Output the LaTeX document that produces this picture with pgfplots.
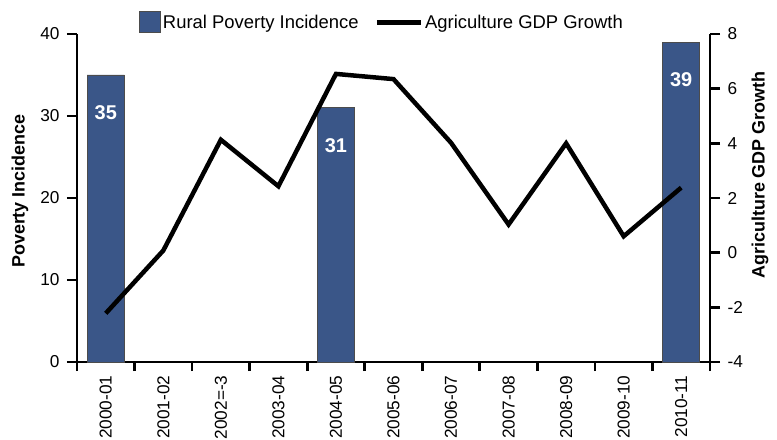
\documentclass[border=0pt]{standalone}
\usepackage{fontspec}
\setmainfont{Liberation Sans}
\usepackage{pgfplots}
\pgfplotsset{compat=1.18}
\newcommand\fs{\fontsize{17.3}{20}\selectfont}
\newcommand\fl{\fontsize{18.5}{22}\selectfont}
\newcommand\ft{\fontsize{18}{21}\selectfont}
\definecolor{barblue}{RGB}{58,86,136}
\pgfplotsset{
  common/.style={
    scale only axis, width=633bp, height=328bp,
    xmin=-0.5, xmax=10.5,
    font=\fs,
    /pgf/number format/assume math mode=true,
    tick align=outside,
    major tick length=10bp,
    minor tick length=9bp,
    every tick/.style={black, line width=2.8bp},
    axis line style={black, line width=2.5bp},
    tick label style={font=\fs},
    ylabel style={font=\ft\bfseries},
  },
  linelegend/.style={legend image code/.code={\draw[black, line width=4.5bp] (0bp,0bp) -- (44bp,0bp);}},
  barlegend/.style={legend image code/.code={\draw[fill=barblue, draw=black!70, line width=0.8bp] (0bp,-10bp) rectangle (21bp,11bp);}},
}
\begin{document}
\begin{tikzpicture}
\path[use as bounding box] (-77bp,-78bp) rectangle (700bp,362bp);
\begin{axis}[common,
  axis y line*=left, axis x line*=bottom,
  ymin=0, ymax=40, ytick={0,10,20,30,40},
  yticklabel style={xshift=-4bp},
  xtick={0,...,10},
  xticklabels={2000-01,2001-02,2002=-3,2003-04,2004-05,2005-06,2006-07,2007-08,2008-09,2009-10,2010-11},
  every major x tick/.append style={draw=none},
  minor xtick={-0.5,0.5,...,10.5},
  x tick label style={rotate=90, anchor=east},
  ylabel={Poverty Incidence},
  ylabel style={at={(axis description cs:-0.090,0.521)}, anchor=center},
  ybar, bar width=0.645,
  legend columns=2,
  legend style={at={(0.5,1)}, anchor=south, xshift=-11.5bp, yshift=1bp, draw=none, fill=none, inner sep=0pt, font=\fl,
    /tikz/every even column/.append style={column sep=14bp}},
  legend cell align=left,
]
\addplot[fill=barblue, draw=black!70, line width=0.8bp, barlegend,
  nodes near coords, point meta=explicit symbolic,
  every node near coord/.append style={font=\fontsize{20}{23}\selectfont\bfseries, text=white, anchor=center, yshift=-37.5bp}]
  table[meta=lab] {
x y lab
0 35 35
4 31 31
10 39 39
};
\addlegendentry{Rural Poverty Incidence}
\addlegendimage{linelegend}
\addlegendentry{Agriculture GDP Growth}
\end{axis}
\begin{axis}[common,
  axis y line*=right, axis x line=none,
  ymin=-4, ymax=8, ytick={-4,-2,0,2,4,6,8},
  yticklabel style={xshift=4bp},
  ylabel={Agriculture GDP Growth},
  ylabel style={at={(axis description cs:1.079,0.570)}, anchor=center},
]
\addplot[black, line width=4.5bp, mark=none] coordinates {
(0,-2.22) (1,0.08) (2,4.13) (3,2.43) (4,6.54) (5,6.35) (6,4.02) (7,1.03) (8,4.0) (9,0.6) (10,2.38)
};
\end{axis}
\end{tikzpicture}
\end{document}
